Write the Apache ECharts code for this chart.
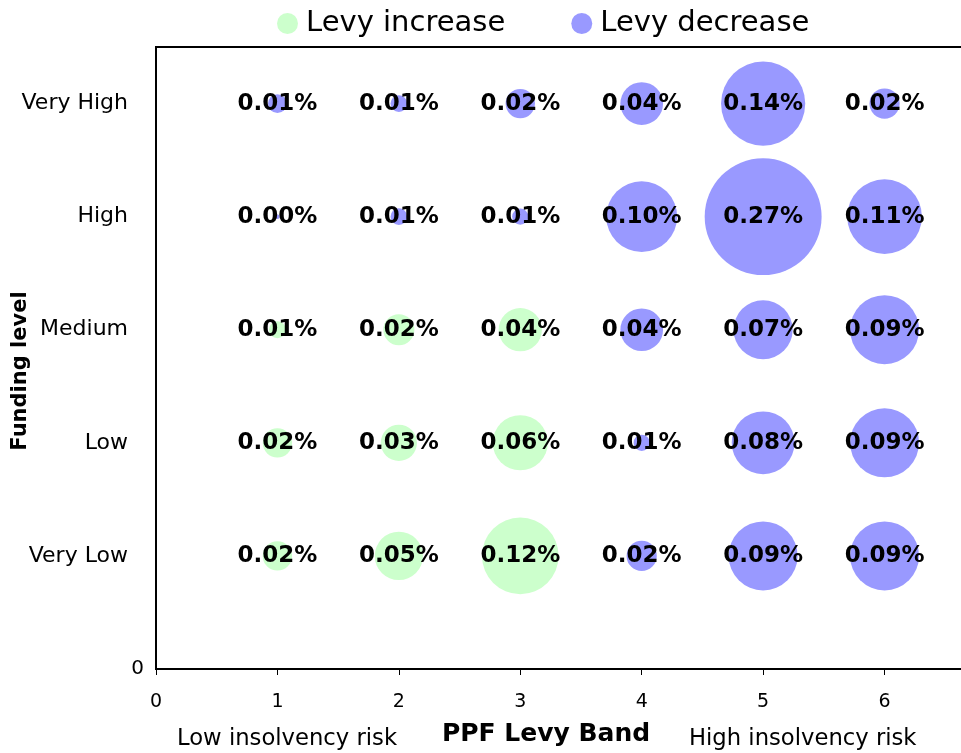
<!DOCTYPE html>
<html><head><meta charset="utf-8">
<script src="https://cdn.jsdelivr.net/npm/echarts@6/dist/echarts.min.js"></script>
<style>html,body{margin:0;padding:0;background:#fff;overflow:hidden}#c{width:1010px;height:753px}</style>
</head><body><div id="c"></div>
<script>
// PPF levy bands (x) and funding levels (y)
const bands = [1, 2, 3, 4, 5, 6];
const fundingLevels = ['Very Low', 'Low', 'Medium', 'High', 'Very High'];
// Levy change in % per band 1..6 ; positive = levy increase, negative = levy decrease
const veryLowChange  = [0.017, 0.046, 0.116, -0.018, -0.094, -0.094];
const lowChange      = [0.017, 0.026, 0.060, -0.0052, -0.078, -0.094];
const mediumChange   = [0.0057, 0.019, 0.037, -0.036, -0.069, -0.094];
const highChange     = [-0.0004, -0.0055, -0.0052, -0.099, -0.27, -0.11];
const veryHighChange = [-0.007, -0.0055, -0.017, -0.036, -0.14, -0.018];
const seriesNames = ['Levy increase', 'Levy decrease'];
const xTickLabels = ['0', '1', '2', '3', '4', '5', '6'];

const rows = [veryLowChange, lowChange, mediumChange, highChange, veryHighChange];
const increaseData = [], decreaseData = [];
rows.forEach((row, i) => {
  row.forEach((v, j) => {
    const pt = [bands[j], i + 1, Math.abs(v)];
    if (v > 0) increaseData.push(pt); else decreaseData.push(pt);
  });
});

const FONT = 'DejaVu Sans';
const sizeFn = d => 225 * Math.sqrt(d[2]);
const labelCfg = {
  show: true, position: 'inside', color: '#000', fontFamily: FONT,
  fontWeight: 'bold', fontSize: 23,
  formatter: p => p.value[2].toFixed(2) + '%'
};

const chart = echarts.init(document.getElementById('c'), null, {renderer: 'canvas'});
chart.setOption({
  animation: false,
  backgroundColor: '#fff',
  textStyle: {fontFamily: FONT},
  title: [
    {text: 'Low insolvency risk', left: 177, top: 728,
     textStyle: {fontFamily: FONT, fontSize: 22.7, fontWeight: 'normal', color: '#000'}, padding: 0},
    {text: 'High insolvency risk', left: 689, top: 728,
     textStyle: {fontFamily: FONT, fontSize: 22.7, fontWeight: 'normal', color: '#000'}, padding: 0}
  ],
  legend: {
    left: 277, top: 9, padding: 0, icon: 'circle', itemWidth: 21, itemHeight: 21, itemGap: 66,
    data: seriesNames,
    textStyle: {fontFamily: FONT, fontSize: 29, color: '#000', padding: [0, 0, 0, 3]}
  },
  grid: {left: 156, top: 47, bottom: 84, right: 4, show: true,
         outerBoundsMode: 'none', containLabel: false,
         borderColor: '#000', borderWidth: 2, backgroundColor: 'transparent'},
  xAxis: {
    type: 'value', min: 0, max: 7, interval: 1,
    axisLine: {lineStyle: {color: '#000', width: 2}},
    axisTick: {show: true, length: 6, lineStyle: {color: '#000', width: 1}},
    splitLine: {show: false},
    axisLabel: {color: '#000', fontSize: 19, fontFamily: FONT, margin: 24,
                formatter: v => (v <= 6 ? xTickLabels[v] : '')},
    name: 'PPF Levy Band', nameLocation: 'middle', nameGap: 53, nameMoveOverlap: false,
    nameTextStyle: {fontFamily: FONT, fontWeight: 'bold', fontSize: 25, color: '#000',
                    padding: [0, 70, 0, 0]}
  },
  yAxis: {
    type: 'value', min: 0, max: 5.5, interval: 1,
    axisLine: {show: true, lineStyle: {color: '#000', width: 2}},
    axisTick: {show: false},
    splitLine: {show: false},
    axisLabel: {
      color: '#000', fontSize: 20, fontFamily: FONT, margin: 12,
      formatter: v => {
        if (v === 0) return '0';
        if (Number.isInteger(v) && v >= 1 && v <= 5) return '{c|' + fundingLevels[v - 1] + '}';
        return '';
      },
      rich: {c: {fontSize: 22, fontFamily: FONT, color: '#000', padding: [0, 16, 0, 0]}}
    },
    name: 'Funding level', nameLocation: 'middle', nameGap: 125, nameMoveOverlap: false,
    nameTextStyle: {fontFamily: FONT, fontWeight: 'bold', fontSize: 21, color: '#000',
                    padding: [0, 26, 0, 0]}
  },
  series: [
    {name: seriesNames[0], type: 'scatter', data: increaseData, symbolSize: sizeFn,
     itemStyle: {color: '#CCFFCC', opacity: 1}, label: labelCfg, emphasis: {disabled: true}},
    {name: seriesNames[1], type: 'scatter', data: decreaseData, symbolSize: sizeFn,
     itemStyle: {color: '#9999FF', opacity: 1}, label: labelCfg, emphasis: {disabled: true}}
  ]
});
</script>
</body></html>
